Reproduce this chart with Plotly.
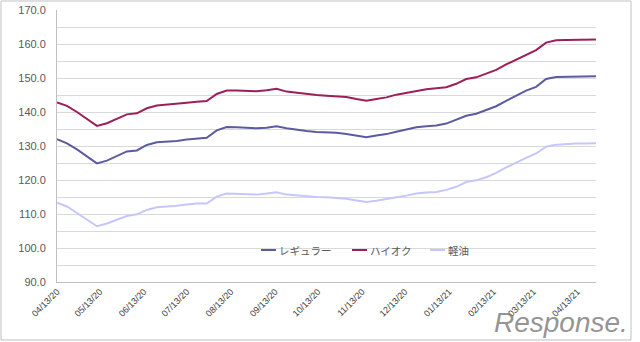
import plotly.graph_objects as go

dates = [
    "2020-04-13", "2020-04-20", "2020-04-27", "2020-05-04", "2020-05-11", "2020-05-18",
    "2020-05-25", "2020-06-01", "2020-06-08", "2020-06-15", "2020-06-22", "2020-06-29",
    "2020-07-06", "2020-07-13", "2020-07-20", "2020-07-27", "2020-08-03", "2020-08-10",
    "2020-08-17", "2020-08-24", "2020-08-31", "2020-09-07", "2020-09-14", "2020-09-21",
    "2020-09-28", "2020-10-05", "2020-10-12", "2020-10-19", "2020-10-26", "2020-11-02",
    "2020-11-09", "2020-11-16", "2020-11-23", "2020-11-30", "2020-12-07", "2020-12-14",
    "2020-12-21", "2020-12-28", "2021-01-04", "2021-01-11", "2021-01-18", "2021-01-25",
    "2021-02-01", "2021-02-08", "2021-02-15", "2021-02-22", "2021-03-01", "2021-03-08",
    "2021-03-15", "2021-03-22", "2021-03-29", "2021-04-05", "2021-04-12", "2021-04-19",
    "2021-04-26",
]

regular = [
    132.0, 130.8, 129.0, 127.0, 124.9, 125.7, 127.1, 128.4, 128.7, 130.3, 131.1, 131.2,
    131.5, 131.9, 132.2, 132.4, 134.6, 135.6, 135.5, 135.4, 135.2, 135.4, 135.8, 135.2,
    134.7, 134.4, 134.1, 134.0, 133.9, 133.5, 133.1, 132.6, 133.1, 133.5, 134.2, 134.9,
    135.5, 135.8, 136.0, 136.6, 137.8, 138.9, 139.5, 140.6, 141.7, 143.3, 144.8, 146.3,
    147.4, 149.7, 150.3, 150.4, 150.5, 150.5, 150.5,
]

high_octane = [
    142.8, 141.8, 140.0, 138.0, 135.9, 136.7, 137.9, 139.3, 139.6, 141.1, 141.9, 142.1,
    142.4, 142.7, 143.0, 143.2, 145.3, 146.3, 146.3, 146.2, 146.1, 146.4, 146.8, 146.0,
    145.6, 145.4, 145.0, 144.8, 144.7, 144.4, 143.8, 143.3, 143.8, 144.3, 145.1, 145.7,
    146.3, 146.7, 147.0, 147.3, 148.3, 149.7, 150.2, 151.2, 152.4, 154.0, 155.4, 156.8,
    158.2, 160.4, 161.1, 161.2, 161.2, 161.2, 161.3,
]

diesel = [
    113.3, 112.2, 110.3, 108.3, 106.4, 107.2, 108.3, 109.4, 109.9, 111.2, 112.0, 112.1,
    112.4, 112.8, 113.1, 113.1, 115.1, 116.0, 115.9, 115.8, 115.7, 116.0, 116.4, 115.7,
    115.4, 115.2, 115.0, 114.9, 114.8, 114.5, 114.0, 113.5, 113.9, 114.3, 114.9, 115.4,
    116.0, 116.3, 116.5, 117.1, 118.0, 119.4, 119.9, 120.8, 122.1, 123.7, 125.2, 126.5,
    127.8, 129.8, 130.4, 130.6, 130.7, 130.7, 130.8,
]

series_names = ["レギュラー", "ハイオク", "軽油"]
series_colors = ["#5B5B9F", "#9C1F5B", "#C6C6FF"]

tick_dates = [
    "2020-04-13", "2020-05-13", "2020-06-13", "2020-07-13", "2020-08-13", "2020-09-13",
    "2020-10-13", "2020-11-13", "2020-12-13", "2021-01-13", "2021-02-13", "2021-03-13",
    "2021-04-13",
]
tick_labels = [
    "04/13/20", "05/13/20", "06/13/20", "07/13/20", "08/13/20", "09/13/20",
    "10/13/20", "11/13/20", "12/13/20", "01/13/21", "02/13/21", "03/13/21",
    "04/13/21",
]

W, H = 640, 342
L, R, T, B = 57, 44, 10, 60
pw, ph = W - L - R, H - T - B

def px_x(p):
    return (p - L) / pw

def px_y(p):
    return (H - B - p) / ph

fig = go.Figure()
for name, ys, col in zip(series_names, [regular, high_octane, diesel], series_colors):
    fig.add_trace(go.Scatter(
        x=dates, y=ys, name=name, mode="lines",
        line=dict(color=col, width=2),
    ))

# legend drawn inside the plot, as in the reference
legend_x = [261, 352, 430]
legend_y = 250
shapes = [dict(
    type="rect", xref="paper", yref="paper",
    x0=px_x(1), x1=px_x(631), y0=px_y(340), y1=px_y(1),
    line=dict(color="#BFBFBF", width=1), fillcolor="rgba(0,0,0,0)", layer="below",
)]
annotations = []
for lx, name, col in zip(legend_x, series_names, series_colors):
    shapes.append(dict(
        type="line", xref="paper", yref="paper",
        x0=px_x(lx), x1=px_x(lx + 15), y0=px_y(legend_y), y1=px_y(legend_y),
        line=dict(color=col, width=2),
    ))
    annotations.append(dict(
        text=name, xref="paper", yref="paper", x=px_x(lx + 16), y=px_y(legend_y),
        xanchor="left", yanchor="middle", showarrow=False,
        font=dict(size=10.5, color="#595959", family="Noto Sans CJK JP"),
    ))
annotations.append(dict(
    text="<i>Response.</i>", xref="paper", yref="paper",
    x=px_x(630), y=px_y(322), xanchor="right", yanchor="middle",
    showarrow=False, font=dict(size=28, color="rgba(120,120,120,0.8)",
                                family="Liberation Sans, Arial"),
))

fig.update_layout(
    width=W, height=H,
    margin=dict(l=L, r=R, t=T, b=B, autoexpand=False),
    paper_bgcolor="white", plot_bgcolor="white",
    font=dict(family="Liberation Sans, Arial, Noto Sans CJK JP", color="#595959"),
    showlegend=False,
    xaxis=dict(
        type="date", range=[dates[0], dates[-1]],
        tickmode="array", tickvals=tick_dates, ticktext=tick_labels,
        tickangle=-45, tickfont=dict(size=9, color="#404040"),
        showgrid=False, showline=True, linecolor="#BFBFBF", linewidth=1,
        ticks="", zeroline=False, automargin=False,
    ),
    yaxis=dict(
        range=[90, 170], dtick=10, tick0=90, tickformat=".1f",
        tickfont=dict(size=11, color="#595959"),
        showgrid=True, gridcolor="#D9D9D9", gridwidth=1,
        minor=dict(dtick=5, tick0=90, showgrid=True, gridcolor="#D9D9D9", gridwidth=1),
        showline=True, linecolor="#BFBFBF", linewidth=1,
        ticks="", zeroline=False, ticklabelstandoff=8, automargin=False,
    ),
    shapes=shapes,
    annotations=annotations,
)

fig.write_html("out.html")
